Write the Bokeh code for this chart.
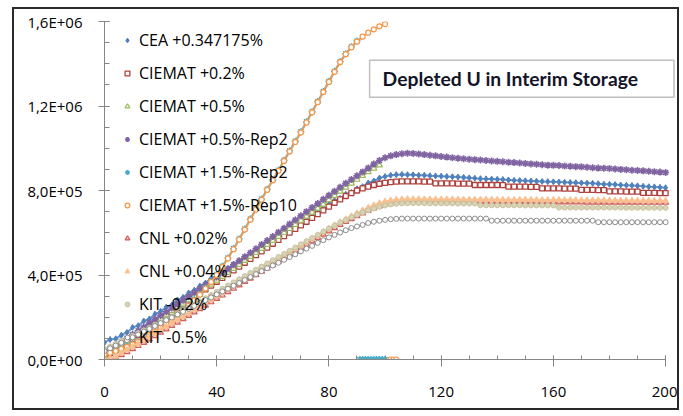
import numpy as np
from bokeh.plotting import figure
from bokeh.models import FixedTicker, Legend, LegendItem, Label
from bokeh.embed import file_html
from bokeh.resources import INLINE

# ---------------- data (values in thousands) ----------------
years = list(range(0, 201, 2))

cea_0347 = [80, 95, 98, 115, 128, 152, 160, 182, 192, 215,
            228, 248, 258, 282, 294, 315, 328, 348, 362, 383,
            396, 416, 430, 452, 464, 486, 498, 520, 533, 554,
            568, 588, 602, 622, 636, 656, 670, 690, 703, 722,
            734, 752, 763, 782, 791, 808, 818, 836, 845, 859,
            866, 872, 875, 876, 875, 874, 872, 872, 870, 869,
            868, 866, 865, 864, 862, 860, 858, 856, 855, 854,
            853, 852, 850, 848, 847, 846, 845, 844, 843, 842,
            841, 840, 839, 838, 837, 836, 835, 834, 832, 830,
            829, 828, 826, 825, 824, 822, 820, 818, 817, 815,
            813]

ciemat_02 = [15, 30, 45, 62, 80, 98, 116, 134, 152, 170,
             188, 206, 224, 242, 260, 278, 296, 314, 332, 350,
             368, 386, 404, 422, 440, 458, 476, 494, 512, 530,
             548, 566, 584, 601, 618, 635, 652, 670, 688, 706,
             724, 742, 758, 774, 788, 800, 810, 818, 826, 832,
             836, 840, 842, 843, 843, 843, 843, 842, 842, 834,
             834, 834, 834, 833, 833, 833, 826, 826, 826, 826,
             826, 825, 818, 818, 818, 818, 817, 817, 810, 810,
             810, 810, 809, 809, 809, 803, 803, 803, 802, 802,
             796, 796, 796, 795, 795, 795, 789, 789, 789, 788,
             788]

ciemat_05_years = list(range(0, 99, 2))
ciemat_05 = [15, 32, 50, 68, 86, 104, 122, 140, 158, 176,
             194, 212, 230, 248, 266, 284, 302, 320, 338, 356,
             374, 392, 411, 430, 449, 468, 487, 506, 525, 544,
             563, 582, 601, 620, 639, 658, 677, 696, 715, 734,
             756, 776, 796, 815, 834, 852, 870, 888, 905, 920]
ciemat_05_tail_years = [99, 100, 101, 102]
ciemat_05_tail = [-20, -20, -20, -20]

ciemat_05_rep2 = [30, 48, 66, 84, 100, 118, 136, 154, 172, 190,
                  208, 226, 244, 262, 280, 298, 316, 335, 354, 372,
                  391, 410, 429, 448, 467, 486, 505, 524, 544, 563,
                  582, 602, 621, 641, 660, 680, 700, 719, 738, 758,
                  777, 796, 815, 834, 852, 870, 888, 906, 925, 942,
                  955, 964, 970, 974, 976, 975, 973, 970, 967, 964,
                  961, 958, 955, 953, 950, 948, 946, 944, 942, 940,
                  938, 936, 934, 932, 930, 928, 926, 924, 922, 920,
                  919, 918, 916, 915, 913, 912, 910, 908, 906, 905,
                  904, 902, 900, 898, 896, 895, 893, 891, 889, 887,
                  885]

ciemat_15_rep2_years = list(range(0, 91, 2))
ciemat_15_rep2 = [28, 35, 42, 52, 63, 74, 88, 101, 118, 134,
                  153, 172, 193, 212, 235, 258, 283, 309, 339, 370,
                  403, 441, 481, 525, 571, 618, 665, 713, 760, 806,
                  851, 896, 943, 988, 1033, 1078, 1125, 1173, 1221, 1269,
                  1317, 1364, 1410, 1447, 1480, 1508]
ciemat_15_rep2_tail_years = [91, 92, 93, 94, 95, 96, 97, 98, 99, 100]
ciemat_15_rep2_tail = [0, 0, 0, 0, 0, 0, 0, 0, 0, 0]

ciemat_15_rep10_years = list(range(0, 101, 2))
ciemat_15_rep10 = [25, 32, 40, 50, 60, 72, 85, 99, 115, 132,
                   150, 170, 190, 210, 232, 255, 280, 307, 336, 367,
                   400, 438, 478, 522, 568, 615, 662, 710, 757, 803,
                   848, 893, 940, 985, 1030, 1075, 1122, 1170, 1218, 1266,
                   1314, 1362, 1408, 1445, 1478, 1505, 1528, 1547, 1563, 1577,
                   1588]
ciemat_15_rep10_tail_years = [102, 103, 104]
ciemat_15_rep10_tail = [0, 0, 0]

cnl_002 = [0, 3, 10, 22, 36, 50, 65, 80, 96, 112,
           128, 144, 160, 176, 192, 208, 224, 240, 256, 272,
           288, 304, 320, 336, 352, 368, 384, 400, 416, 432,
           448, 464, 480, 496, 512, 528, 544, 560, 576, 592,
           608, 623, 638, 652, 666, 680, 693, 705, 716, 726,
           734, 740, 744, 746, 747, 747, 747, 747, 747, 747,
           747, 747, 746, 746, 746, 746, 746, 746, 746, 746,
           746, 746, 746, 745, 745, 745, 745, 745, 745, 745,
           745, 745, 745, 745, 745, 745, 744, 744, 744, 744,
           744, 744, 744, 744, 744, 744, 743, 743, 743, 743,
           743]

cnl_004 = [0, 5, 15, 30, 45, 60, 75, 92, 108, 124,
           140, 156, 172, 188, 204, 220, 236, 252, 268, 284,
           300, 316, 332, 348, 364, 380, 396, 412, 428, 444,
           460, 476, 492, 508, 524, 540, 556, 572, 588, 604,
           620, 636, 650, 664, 678, 692, 706, 718, 730, 740,
           748, 753, 756, 758, 759, 759, 759, 758, 758, 758,
           758, 758, 758, 757, 757, 757, 757, 757, 757, 757,
           756, 756, 756, 756, 756, 756, 756, 755, 755, 755,
           755, 755, 755, 755, 754, 754, 754, 754, 754, 754,
           753, 753, 753, 753, 753, 752, 752, 752, 752, 752,
           752]

kit_02 = [50, 62, 75, 88, 100, 112, 125, 138, 150, 163,
          176, 190, 204, 218, 232, 246, 260, 275, 290, 305,
          320, 335, 350, 365, 380, 395, 410, 425, 440, 455,
          470, 485, 500, 515, 530, 545, 560, 575, 590, 605,
          620, 634, 648, 661, 673, 685, 696, 706, 715, 723,
          729, 734, 737, 739, 740, 740, 740, 740, 739, 739,
          739, 739, 739, 738, 738, 738, 738, 730, 730, 730,
          730, 730, 730, 730, 730, 729, 729, 729, 729, 729,
          729, 719, 719, 719, 719, 719, 719, 719, 719, 719,
          719, 719, 719, 718, 718, 718, 718, 718, 718, 718,
          718]

kit_05 = [40, 53, 66, 79, 92, 105, 118, 132, 145, 159,
          172, 186, 199, 213, 226, 240, 254, 267, 281, 294,
          308, 322, 335, 349, 362, 376, 390, 404, 418, 432,
          445, 458, 472, 485, 498, 512, 525, 538, 552, 565,
          578, 590, 601, 612, 622, 630, 637, 646, 652, 657,
          661, 664, 666, 667, 667, 667, 667, 667, 667, 667,
          667, 667, 667, 667, 667, 667, 667, 667, 667, 657,
          657, 657, 657, 657, 657, 657, 657, 657, 657, 657,
          657, 657, 657, 657, 657, 657, 657, 657, 650, 650,
          650, 650, 650, 650, 650, 650, 650, 650, 650, 650,
          650]

series_names = ["CEA +0.347175%", "CIEMAT +0.2%", "CIEMAT +0.5%",
                "CIEMAT +0.5%-Rep2", "CIEMAT +1.5%-Rep2", "CIEMAT +1.5%-Rep10",
                "CNL +0.02%", "CNL +0.04%", "KIT -0.2%", "KIT -0.5%"]

x_ticks = [0, 40, 80, 120, 160, 200]
x_minor = list(range(0, 201, 10))
y_ticks = [0, 400000, 800000, 1200000, 1600000]
y_minor = list(range(0, 1600001, 100000))
y_tick_labels = ["0,0E+00", "4,0E+05", "8,0E+05", "1,2E+06", "1,6E+06"]
title_text = "Depleted U in Interim Storage"

# ---------------- figure ----------------
p = figure(width=667, height=403, x_range=(0, 204.6), y_range=(0, 1600000),
           output_backend="svg", toolbar_location=None,
           min_border_left=90, min_border_right=3, min_border_top=12, min_border_bottom=53)
p.styles = {"border": "2px solid #2a2a2a", "margin-left": "12px", "margin-top": "7px"}
p.outline_line_color = None
p.xgrid.visible = False
p.ygrid.visible = False
p.background_fill_color = "white"
p.border_fill_color = "white"

axis_col = "#868686"
for ax in (p.xaxis[0], p.yaxis[0]):
    ax.axis_line_color = axis_col
    ax.major_tick_line_color = axis_col
    ax.minor_tick_line_color = axis_col
    ax.major_label_text_font = "Open Sans"
    ax.major_label_text_font_size = "15px"
    ax.major_label_text_color = "#000000"

p.xaxis.bounds = (0, 200)
p.xaxis.ticker = FixedTicker(ticks=x_ticks, minor_ticks=x_minor)
p.yaxis.ticker = FixedTicker(ticks=y_ticks, minor_ticks=y_minor)
p.yaxis.major_label_overrides = {t: l for t, l in zip(y_ticks, y_tick_labels)}
p.xaxis.major_label_overrides = {t: str(t) for t in x_ticks}
p.xaxis.major_tick_in = 4
p.xaxis.major_tick_out = 7
p.xaxis.minor_tick_in = 4
p.xaxis.minor_tick_out = 0
p.xaxis.major_label_standoff = 20
p.yaxis.major_tick_in = 5
p.yaxis.major_tick_out = 6
p.yaxis.minor_tick_in = 5
p.yaxis.minor_tick_out = 0
p.yaxis.major_label_standoff = 16

def k(vals):
    return np.array(vals, dtype=float) * 1000.0

specs = [
    (series_names[0], years, cea_0347, "diamond", "#4F81BD", "#4F81BD", 6, 1.0),
    (series_names[1], years, ciemat_02, "square", "#B0403D", "#FFFFFF", 5, 1.3),
    (series_names[2], ciemat_05_years, ciemat_05, "triangle", "#9BBB59", "#FFFFFF", 6, 1.2),
    (series_names[3], years, ciemat_05_rep2, "asterisk", "#8064A2", None, 7, 1.6),
    (series_names[4], ciemat_15_rep2_years, ciemat_15_rep2, "asterisk", "#4BACC6", None, 7, 1.4),
    (series_names[5], ciemat_15_rep10_years, ciemat_15_rep10, "circle", "#F79646", "#FFFFFF", 5, 1.2),
    (series_names[6], years, cnl_002, "triangle", "#D0605A", "#F2C8C4", 6, 1.2),
    (series_names[7], years, cnl_004, "triangle", "#FAC090", "#FAC090", 6, 1.0),
    (series_names[8], years, kit_02, "circle", "#C9C3A0", "#D8D3B5", 5, 1.0),
    (series_names[9], years, kit_05, "circle", "#8C8C8C", "#FFFFFF", 5, 1.0),
]

tails = {
    series_names[2]: (ciemat_05_tail_years, ciemat_05_tail),
    series_names[4]: (ciemat_15_rep2_tail_years, ciemat_15_rep2_tail),
    series_names[5]: (ciemat_15_rep10_tail_years, ciemat_15_rep10_tail),
}

items = []
for name, xs, ys, marker, lc, fc, size, lw in specs:
    p.line(xs, k(ys), line_color=lc, line_width=2, line_alpha=0.85)
    kw = dict(marker=marker, size=size, line_color=lc, line_width=lw)
    if fc is None:
        kw["fill_alpha"] = 0
    else:
        kw["fill_color"] = fc
    r = p.scatter(xs, k(ys), **kw)
    if name in tails:
        tx, ty = tails[name]
        p.scatter(tx, k(ty), **kw)
    items.append(LegendItem(label=name, renderers=[r]))

legend = Legend(items=items, location=(17, 11),
                label_text_font="Open Sans", label_text_font_size="16px",
                label_text_color="#000000",
                glyph_width=12, glyph_height=20, label_height=20,
                spacing=11, padding=0, margin=0, label_standoff=6,
                border_line_color=None, background_fill_alpha=0)
p.add_layout(legend)

title = Label(x=94.5, y=1417000, text=title_text,
              text_font="Lato", text_font_style="bold", text_font_size="19.3px",
              text_color="#141428", text_align="left", text_baseline="top",
              padding=(13, 36, 7, 7),
              border_line_color="#BFBFBF", border_line_width=1.5,
              background_fill_color="white")
p.add_layout(title)

open("out.html", "w").write(file_html(p, INLINE))
